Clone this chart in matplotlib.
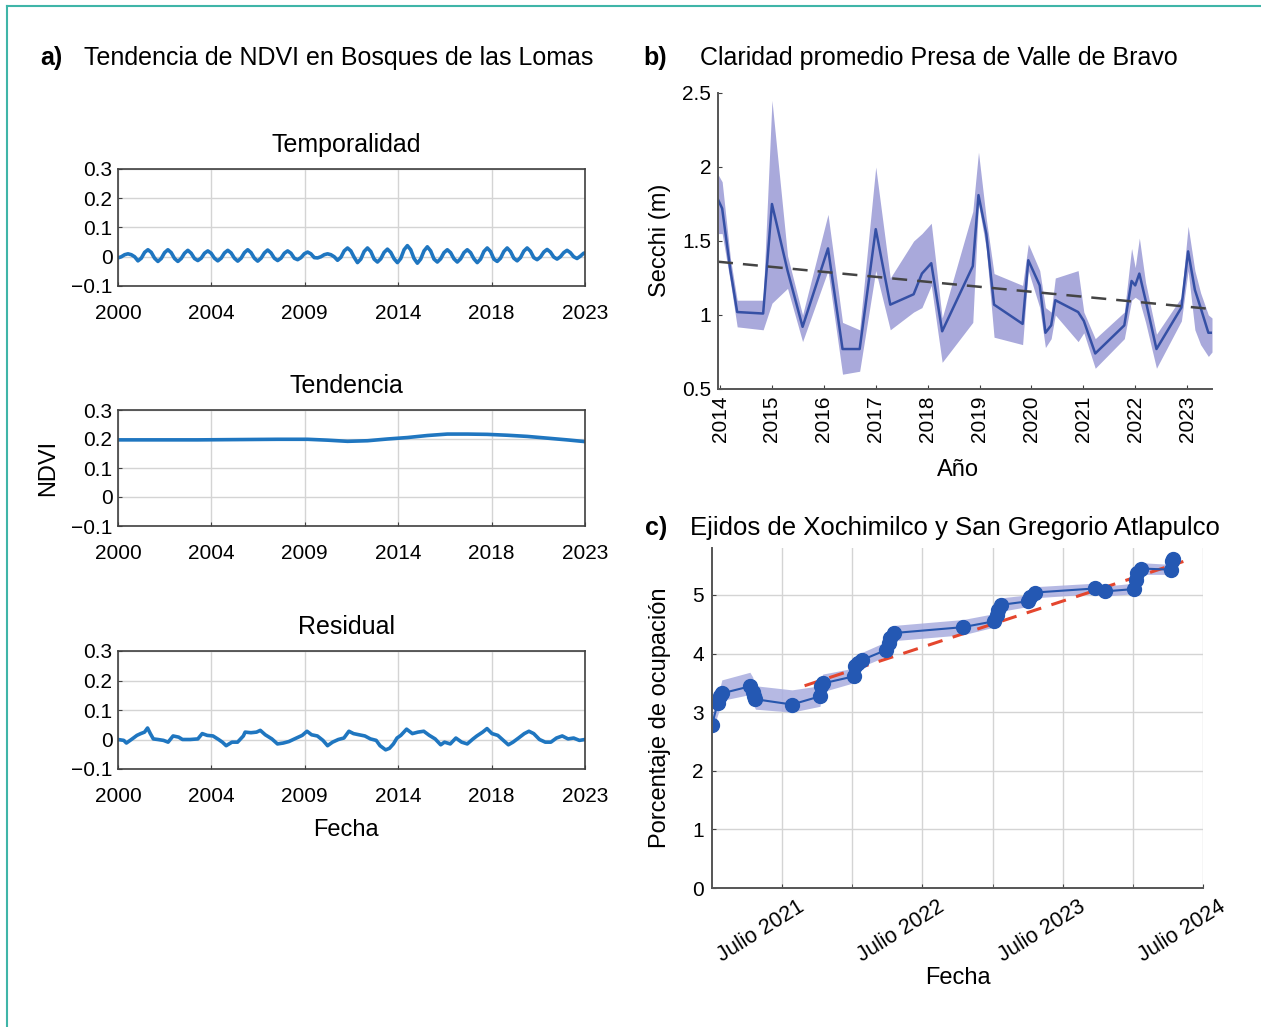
import numpy as np
import matplotlib.pyplot as plt
from matplotlib.lines import Line2D
from matplotlib.transforms import ScaledTranslation

plt.rcParams["font.family"] = ["Liberation Sans", "DejaVu Sans"]

# ---- panel a: descomposicion NDVI ----
a_ticklabels = ["2000", "2004", "2009", "2014", "2018", "2023"]
a_yticks = [-0.1, 0, 0.1, 0.2, 0.3]
a_yticklabels = ["\u22120.1", "0", "0.1", "0.2", "0.3"]

# temporalidad, 6 values per year (every two months)
season = [
    -0.004, 0.000, 0.007, 0.010, 0.007, 0.000,
    -0.014, -0.005, 0.015, 0.024, 0.015, -0.005,
    -0.016, -0.006, 0.014, 0.024, 0.014, -0.006,
    -0.016, -0.006, 0.012, 0.022, 0.012, -0.006,
    -0.013, -0.005, 0.012, 0.020, 0.012, -0.005,
    -0.014, -0.005, 0.013, 0.022, 0.013, -0.005,
    -0.015, -0.005, 0.014, 0.024, 0.014, -0.005,
    -0.015, -0.005, 0.013, 0.023, 0.013, -0.005,
    -0.013, -0.005, 0.012, 0.020, 0.012, -0.005,
    -0.010, -0.003, 0.010, 0.016, 0.010, -0.003,
    -0.004, 0.000, 0.007, 0.010, 0.007, 0.000,
    -0.012, -0.002, 0.020, 0.030, 0.020, -0.002,
    -0.020, -0.008, 0.018, 0.030, 0.018, -0.008,
    -0.018, -0.007, 0.015, 0.026, 0.015, -0.007,
    -0.020, -0.006, 0.024, 0.038, 0.024, -0.006,
    -0.022, -0.008, 0.020, 0.034, 0.020, -0.008,
    -0.018, -0.007, 0.014, 0.024, 0.014, -0.007,
    -0.018, -0.007, 0.014, 0.024, 0.014, -0.007,
    -0.020, -0.008, 0.018, 0.030, 0.018, -0.008,
    -0.016, -0.005, 0.018, 0.030, 0.018, -0.005,
    -0.014, -0.003, 0.019, 0.030, 0.019, -0.003,
    -0.010, -0.001, 0.016, 0.025, 0.016, -0.001,
    -0.008, 0.000, 0.014, 0.022, 0.014, 0.000,
    -0.006, 0.002, 0.012, 0.015,
]
season_t = 2000 + np.arange(len(season)) / 6

trend_t = [2000, 2002, 2004, 2006, 2008, 2009.5, 2010.5, 2011.5, 2012.5, 2013.5,
           2014.5, 2015.5, 2016.5, 2017.5, 2018.5, 2019.5, 2020.5, 2021.5, 2022.5, 2023.4]
trend_v = [0.197, 0.197, 0.197, 0.198, 0.199, 0.199, 0.196, 0.192, 0.194, 0.200,
           0.205, 0.212, 0.217, 0.217, 0.216, 0.213, 0.209, 0.203, 0.197, 0.191]

resid_t = [2000.00, 2000.29, 2000.42, 2000.67, 2000.95, 2001.14, 2001.33, 2001.48, 2001.62, 2001.77,
           2002.00, 2002.28, 2002.51, 2002.76, 2003.04, 2003.23, 2003.62, 2004.00, 2004.22, 2004.47,
           2004.76, 2005.04, 2005.23, 2005.42, 2005.71, 2005.99, 2006.28, 2006.37, 2006.66, 2006.94,
           2007.13, 2007.38, 2007.71, 2007.99, 2008.28, 2008.56, 2008.94, 2009.23, 2009.47, 2009.70,
           2009.99, 2010.27, 2010.50, 2010.75, 2011.04, 2011.32, 2011.57, 2011.80, 2012.08, 2012.37,
           2012.65, 2012.94, 2013.13, 2013.41, 2013.60, 2013.80, 2013.98, 2014.17, 2014.46, 2014.75,
           2015.03, 2015.32, 2015.60, 2015.89, 2016.17, 2016.36, 2016.65, 2016.93, 2017.22, 2017.50,
           2017.79, 2017.98, 2018.27, 2018.49, 2018.74, 2019.03, 2019.31, 2019.56, 2019.79, 2020.07,
           2020.36, 2020.59, 2020.83, 2021.12, 2021.41, 2021.69, 2021.97, 2022.26, 2022.55, 2022.83,
           2023.12, 2023.40]
resid_v = [0.000, -0.003, -0.012, 0.000, 0.014, 0.020, 0.025, 0.039, 0.020, 0.002,
           0.000, -0.003, -0.009, 0.012, 0.008, 0.000, 0.000, 0.002, 0.020, 0.014,
           0.012, 0.000, -0.009, -0.021, -0.009, -0.009, 0.012, 0.025, 0.023, 0.025,
           0.031, 0.016, 0.002, -0.015, -0.012, -0.007, 0.005, 0.014, 0.028, 0.016,
           0.012, -0.003, -0.021, -0.009, 0.000, 0.005, 0.028, 0.020, 0.016, 0.012,
           0.002, -0.003, -0.021, -0.035, -0.030, -0.015, 0.005, 0.014, 0.035, 0.020,
           0.025, 0.028, 0.014, 0.002, -0.018, -0.009, -0.015, 0.005, -0.009, -0.015,
           0.002, 0.012, 0.025, 0.037, 0.020, 0.014, -0.003, -0.018, -0.009, 0.005,
           0.020, 0.028, 0.020, 0.000, -0.009, -0.009, 0.005, 0.012, 0.002, 0.005,
           -0.003, 0.000]

# ---- panel b: Secchi ----
b_years = [2013.96, 2014.04, 2014.20, 2014.33, 2014.83, 2015.00, 2015.30, 2015.59, 2016.08, 2016.36,
           2016.69, 2017.00, 2017.28, 2017.73, 2017.89, 2018.07, 2018.28, 2018.87, 2018.98, 2019.13,
           2019.28, 2019.83, 2019.94, 2020.16, 2020.27, 2020.38, 2020.46, 2020.90, 2021.01, 2021.23,
           2021.79, 2021.93, 2022.00, 2022.08, 2022.20, 2022.41, 2022.89, 2023.02, 2023.15, 2023.26,
           2023.41, 2023.48]
b_mean = [1.78, 1.72, 1.30, 1.02, 1.01, 1.75, 1.30, 0.92, 1.45, 0.77,
          0.77, 1.58, 1.07, 1.14, 1.28, 1.35, 0.89, 1.33, 1.81, 1.55,
          1.07, 0.94, 1.37, 1.20, 0.88, 0.93, 1.10, 1.02, 0.96, 0.74,
          0.93, 1.23, 1.20, 1.28, 1.10, 0.77, 1.05, 1.43, 1.17, 1.05,
          0.88, 0.88]
b_hi = [1.95, 1.90, 1.38, 1.10, 1.10, 2.45, 1.40, 1.00, 1.68, 0.95,
        0.90, 2.00, 1.25, 1.50, 1.55, 1.62, 0.98, 1.70, 2.10, 1.65,
        1.28, 1.20, 1.48, 1.30, 1.05, 1.02, 1.25, 1.30, 1.02, 0.84,
        1.02, 1.45, 1.32, 1.52, 1.22, 0.87, 1.12, 1.60, 1.30, 1.15,
        1.00, 0.98]
b_lo = [1.55, 1.55, 1.22, 0.92, 0.90, 1.08, 1.18, 0.82, 1.30, 0.60,
        0.62, 1.30, 0.90, 1.02, 1.05, 1.20, 0.68, 0.95, 1.75, 1.45,
        0.85, 0.80, 1.30, 1.05, 0.78, 0.84, 1.00, 0.82, 0.88, 0.64,
        0.84, 1.10, 1.12, 1.10, 0.95, 0.64, 0.96, 1.30, 0.90, 0.80,
        0.72, 0.75]
b_trend_x = [2013.96, 2023.48]
b_trend_y = [1.36, 1.04]
b_ticks = list(range(2014, 2024))

# ---- panel c: ocupacion ejidos ----
c_t = [2021.00, 2021.04, 2021.06, 2021.07, 2021.27, 2021.29, 2021.30, 2021.31, 2021.57, 2021.77,
       2021.78, 2021.79, 2022.01, 2022.02, 2022.04, 2022.07, 2022.24, 2022.26, 2022.27, 2022.30,
       2022.79, 2023.01, 2023.03, 2023.04, 2023.06, 2023.25, 2023.27, 2023.30, 2023.73, 2023.80,
       2024.01, 2024.02, 2024.03, 2024.06, 2024.27, 2024.28, 2024.285]
c_v = [2.78, 3.15, 3.27, 3.32, 3.44, 3.35, 3.27, 3.22, 3.13, 3.27,
       3.44, 3.49, 3.61, 3.78, 3.84, 3.89, 4.06, 4.18, 4.26, 4.35,
       4.45, 4.55, 4.66, 4.74, 4.83, 4.89, 4.97, 5.04, 5.11, 5.06,
       5.10, 5.26, 5.37, 5.45, 5.43, 5.57, 5.61]
c_lo = [2.65, 2.95, 3.10, 3.20, 3.30, 3.20, 3.10, 3.05, 3.00, 3.10,
        3.30, 3.35, 3.50, 3.65, 3.72, 3.78, 3.95, 4.05, 4.12, 4.22,
        4.32, 4.45, 4.55, 4.62, 4.72, 4.80, 4.88, 4.95, 5.02, 4.98,
        5.02, 5.15, 5.27, 5.35, 5.35, 5.48, 5.52]
c_hi = [2.95, 3.30, 3.45, 3.55, 3.68, 3.60, 3.50, 3.45, 3.38, 3.45,
        3.60, 3.65, 3.75, 3.92, 3.98, 4.02, 4.20, 4.32, 4.38, 4.48,
        4.58, 4.68, 4.80, 4.88, 4.95, 5.00, 5.08, 5.14, 5.20, 5.15,
        5.20, 5.36, 5.47, 5.55, 5.52, 5.65, 5.68]
c_fit_x = [2021.66, 2024.36]
c_fit_y = [3.45, 5.57]
c_major = [2021.5, 2022.5, 2023.5, 2024.5]
c_major_labels = ["Julio 2021", "Julio 2022", "Julio 2023", "Julio 2024"]
c_minor = [2022.0, 2023.0, 2024.0]

W, H = 1261, 1027
fig = plt.figure(figsize=(W / 100, H / 100), dpi=100)


def box(x0, y0, x1, y1):
    """Pixel box (left, top, right, bottom) -> figure rect."""
    return [x0 / W, 1 - y1 / H, (x1 - x0) / W, (y1 - y0) / H]


def ftext(x, y, s, **kw):
    fig.text(x / W, 1 - y / H, s, **kw)


AX = "#404040"
GRID = "#d4d4d4"
TICK = 15
LAB = 17
HEAD = 18

# teal frame
fig.add_artist(Line2D([7 / W, 7 / W], [0, 1 - 6 / H], color="#3fb5a8", lw=1.5))
fig.add_artist(Line2D([7 / W, 1], [1 - 6 / H, 1 - 6 / H], color="#3fb5a8", lw=1.5))

# panel a
ndvi_blue = "#1f76c0"
rows = [(169, 286, "Temporalidad", season_t, season),
        (410, 526, "Tendencia", trend_t, trend_v),
        (651, 769, "Residual", resid_t, resid_v)]
a_xticks = np.linspace(2000, 2023.4, len(a_ticklabels))
for top, bot, name, tx, vy in rows:
    ax = fig.add_axes(box(118, top, 585, bot))
    ax.plot(tx, vy, color=ndvi_blue, lw=2.6)
    ax.set_xlim(2000, 2023.4)
    ax.set_ylim(-0.1, 0.3)
    ax.set_xticks(a_xticks)
    ax.set_xticklabels(a_ticklabels)
    ax.set_yticks(a_yticks)
    ax.set_yticklabels(a_yticklabels)
    ax.grid(True, color=GRID, lw=1)
    ax.tick_params(direction="in", length=3, labelsize=TICK, color=AX, pad=4)
    ax.tick_params(axis="x", pad=13)
    for s in ax.spines.values():
        s.set_color(AX)
        s.set_linewidth(1.2)
    ftext(346, top - 24, name, ha="center", va="center", fontsize=HEAD)

ftext(48, 468, "NDVI", rotation=90, ha="center", va="center", fontsize=LAB)
ftext(346, 830, "Fecha", ha="center", va="center", fontsize=LAB)
ftext(40, 58, "a)", ha="left", va="center", fontsize=HEAD, fontweight="bold")
ftext(84, 58, "Tendencia de NDVI en Bosques de las Lomas", ha="left", va="center", fontsize=HEAD)

# panel b
axb = fig.add_axes(box(718, 93, 1212, 389))
axb.fill_between(b_years, b_lo, b_hi, color="#8c8ccf", alpha=0.75, lw=0)
axb.plot(b_years, b_mean, color="#3550a5", lw=1.8)
axb.plot(b_trend_x, b_trend_y, color="#444444", lw=1.8, dashes=(6, 4))
axb.set_xlim(b_years[0], b_years[-1])
axb.set_ylim(0.5, 2.5)
axb.set_yticks([0.5, 1, 1.5, 2, 2.5])
axb.set_yticklabels(["0.5", "1", "1.5", "2", "2.5"])
axb.set_xticks(b_ticks)
axb.set_xticklabels([str(y) for y in b_ticks], rotation=90)
axb.tick_params(direction="in", length=3, labelsize=TICK, color=AX, pad=5)
for side in ("top", "right"):
    axb.spines[side].set_visible(False)
for side in ("left", "bottom"):
    axb.spines[side].set_color("#555555")
    axb.spines[side].set_linewidth(1.4)
ftext(660, 240, "Secchi (m)", rotation=90, ha="center", va="center", fontsize=LAB)
ftext(958, 470, "Año", ha="center", va="center", fontsize=LAB)
ftext(643, 58, "b)", ha="left", va="center", fontsize=HEAD, fontweight="bold")
ftext(700, 58, "Claridad promedio Presa de Valle de Bravo", ha="left", va="center", fontsize=HEAD)

# panel c
axc = fig.add_axes(box(712, 548, 1203, 888))
axc.fill_between(c_t, c_lo, c_hi, color="#a9addf", alpha=0.85, lw=0)
axc.plot(c_fit_x, c_fit_y, color="#e4462e", lw=2.2, dashes=(5, 3.5))
axc.plot(c_t, c_v, color="#2656ad", lw=1.5, marker="o", ms=10,
         markerfacecolor="#2458b3", markeredgecolor="#2458b3")
axc.set_xlim(2021.0, 2024.5)
axc.set_ylim(0, 5.8)
axc.set_yticks([0, 1, 2, 3, 4, 5])
axc.set_xticks(c_major)
axc.set_xticks(c_minor, minor=True)
axc.grid(True, which="both", color=GRID, lw=1)
axc.set_axisbelow(True)
axc.tick_params(which="both", direction="in", length=3, color=AX)
axc.tick_params(labelsize=TICK, pad=6)
axc.set_xticklabels(c_major_labels, rotation=32, ha="right", rotation_mode="anchor",
                    fontsize=15.5)
shift = ScaledTranslation(15 / 100, 0, fig.dpi_scale_trans)
for lbl in axc.get_xticklabels():
    lbl.set_transform(lbl.get_transform() + shift)
for side in ("top", "right"):
    axc.spines[side].set_visible(False)
for side in ("left", "bottom"):
    axc.spines[side].set_color("#555555")
    axc.spines[side].set_linewidth(1.4)
ftext(660, 718, "Porcentaje de ocupación", rotation=90, ha="center", va="center", fontsize=LAB)
ftext(958, 978, "Fecha", ha="center", va="center", fontsize=LAB)
ftext(645, 528, "c)", ha="left", va="center", fontsize=HEAD, fontweight="bold")
ftext(690, 528, "Ejidos de Xochimilco y San Gregorio Atlapulco", ha="left", va="center", fontsize=18.5)

fig.savefig("out.png", dpi=100)
